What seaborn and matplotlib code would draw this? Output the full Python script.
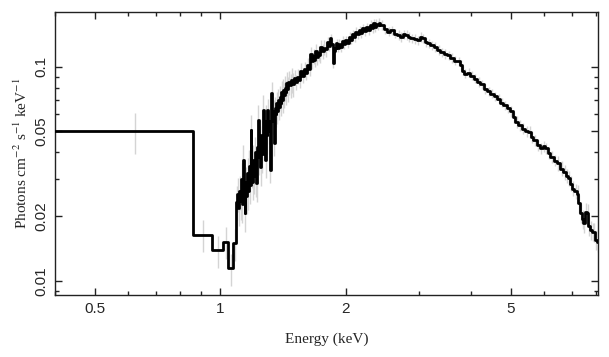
import matplotlib
matplotlib.use("Agg")
import matplotlib.pyplot as plt
import matplotlib.ticker as mticker
import seaborn as sns
import numpy as np
import pandas as pd

# bin lower edges (keV) and flux (photons cm^-2 s^-1 keV^-1)
# low energy, wide bins
e_low = [0.39, 0.858, 0.955, 1.015, 1.043, 1.073]
f_low = [0.0500, 0.0164, 0.0139, 0.0152, 0.01146, 0.0150]

# steep, noisy rise 1.09 - 1.46 keV
e_rise = [1.093, 1.099, 1.104, 1.110, 1.116, 1.121, 1.127, 1.133, 1.138, 1.143,
          1.149, 1.154, 1.160, 1.165, 1.171, 1.176, 1.182, 1.187, 1.193, 1.198,
          1.204, 1.209, 1.215, 1.220, 1.226, 1.231, 1.237, 1.242, 1.248, 1.253,
          1.259, 1.264, 1.270, 1.276, 1.281, 1.287, 1.292, 1.298, 1.304, 1.309,
          1.315, 1.321, 1.327, 1.333, 1.339, 1.345, 1.351, 1.357, 1.363, 1.369,
          1.375, 1.382, 1.388, 1.395, 1.401, 1.408, 1.414, 1.421, 1.428, 1.435,
          1.442, 1.449, 1.456]
f_rise = [0.0234, 0.0256, 0.0220, 0.0262, 0.0235, 0.0300, 0.0228, 0.0367, 0.0270, 0.0207,
          0.0290, 0.0250, 0.0319, 0.0262, 0.0345, 0.0280, 0.0506, 0.0330, 0.0290, 0.0367,
          0.0310, 0.0400, 0.0300, 0.0286, 0.0420, 0.0564, 0.0380, 0.0450, 0.0340, 0.0480,
          0.0390, 0.0628, 0.0450, 0.0520, 0.0367, 0.0560, 0.0480, 0.0628, 0.0500, 0.0560,
          0.0330, 0.0600, 0.0754, 0.0560, 0.0620, 0.0440, 0.0640, 0.0600, 0.0676, 0.0620,
          0.0700, 0.0650, 0.0720, 0.0680, 0.0760, 0.0700, 0.0780, 0.0740, 0.0800, 0.0760,
          0.0840, 0.0790, 0.0850]

# 1.47 - 1.64 keV
e_mid = [1.470, 1.480, 1.490, 1.501, 1.515, 1.529, 1.543, 1.557, 1.572, 1.586,
         1.601, 1.616, 1.631]
f_mid = [0.0820, 0.0870, 0.0830, 0.0890, 0.0850, 0.0900, 0.0870, 0.0960, 0.0910, 0.0980,
         0.0940, 0.1020, 0.0980]

# peak region 1.65 - 2.45 keV
e_peak = [1.646, 1.658, 1.670, 1.682, 1.693, 1.705, 1.716, 1.728, 1.740, 1.756,
          1.772, 1.788, 1.805, 1.821, 1.838, 1.850, 1.862, 1.874, 1.885, 1.897,
          1.908, 1.925, 1.943, 1.961, 1.979, 1.997, 2.016, 2.035, 2.054, 2.073,
          2.093, 2.112, 2.132, 2.151, 2.171, 2.191, 2.211, 2.237, 2.263, 2.290,
          2.316, 2.333, 2.350, 2.366, 2.381, 2.403, 2.424]
f_peak = [0.1150, 0.1060, 0.1120, 0.1080, 0.1180, 0.1110, 0.1160, 0.1130, 0.1240, 0.1180,
          0.1230, 0.1210, 0.1310, 0.1250, 0.1360, 0.1280, 0.1040, 0.1180, 0.1220, 0.1290,
          0.1230, 0.1280, 0.1240, 0.1320, 0.1280, 0.1330, 0.1290, 0.1380, 0.1340, 0.1420,
          0.1380, 0.1460, 0.1420, 0.1480, 0.1440, 0.1510, 0.1470, 0.1530, 0.1480, 0.1570,
          0.1520, 0.1600, 0.1530, 0.1590, 0.1560, 0.1610, 0.1570]

# high energy fall-off 2.47 - 8.1 keV
e_high = [2.470, 2.516, 2.563, 2.610, 2.660, 2.708, 2.745, 2.785, 2.824, 2.863,
          2.917, 2.971, 3.013, 3.055, 3.098, 3.141, 3.199, 3.257, 3.318, 3.380,
          3.444, 3.508, 3.573, 3.638, 3.707, 3.776, 3.811, 3.846, 3.918, 3.990,
          4.065, 4.140, 4.217, 4.295, 4.376, 4.457, 4.541, 4.625, 4.711, 4.797,
          4.887, 4.977, 5.047, 5.117, 5.213, 5.310, 5.409, 5.509, 5.586, 5.663,
          5.769, 5.875, 5.959, 6.043, 6.128, 6.214, 6.330, 6.446, 6.566, 6.687,
          6.781, 6.876, 6.940, 7.004, 7.100, 7.199, 7.267, 7.335, 7.400, 7.470,
          7.540, 7.609, 7.680, 7.748, 7.820, 7.895, 7.968, 8.041]
f_high = [0.1500, 0.1460, 0.1480, 0.1430, 0.1410, 0.1380, 0.1420, 0.1410, 0.1380, 0.1360,
          0.1350, 0.1330, 0.1380, 0.1360, 0.1300, 0.1290, 0.1260, 0.1240, 0.1200, 0.1170,
          0.1150, 0.1130, 0.1100, 0.1070, 0.1060, 0.1020, 0.0960, 0.0930, 0.0940, 0.0910,
          0.0880, 0.0850, 0.0830, 0.0790, 0.0770, 0.0750, 0.0730, 0.0710, 0.0680, 0.0660,
          0.0640, 0.0620, 0.0580, 0.0553, 0.0535, 0.0515, 0.0500, 0.0497, 0.0470, 0.0455,
          0.0430, 0.0416, 0.0425, 0.0416, 0.0395, 0.0380, 0.0365, 0.0354, 0.0335, 0.0323,
          0.0310, 0.0301, 0.0285, 0.0270, 0.0262, 0.0256, 0.0230, 0.0207, 0.0195, 0.0186,
          0.0210, 0.0207, 0.0180, 0.0173, 0.0170, 0.0169, 0.0155, 0.0152]
e_last = 8.15

# typical fractional error bar size per energy band (band lower edges)
err_band_lo = [0.0, 0.858, 1.09, 1.30, 1.50, 1.80, 5.0, 6.5, 7.2]
err_band_frac = [0.22, 0.17, 0.18, 0.13, 0.08, 0.05, 0.06, 0.08, 0.10]

x_ticks = [0.5, 1, 2, 5]
x_ticklabels = ["0.5", "1", "2", "5"]
y_ticks = [0.01, 0.02, 0.05, 0.1]
y_ticklabels = ["0.01", "0.02", "0.05", "0.1"]

sns.set_style("ticks")
plt.rcParams["font.family"] = ["Liberation Sans", "DejaVu Sans"]
plt.rcParams["mathtext.fontset"] = "stix"

edges = np.array(e_low + e_rise + e_mid + e_peak + e_high + [e_last])
fl = np.array(f_low + f_rise + f_mid + f_peak + f_high)
centers = (edges[:-1] + edges[1:]) / 2
frac = np.array(err_band_frac)[np.searchsorted(err_band_lo, centers, side="right") - 1]
err = fl * frac

step_df = pd.DataFrame({"energy": edges, "flux": np.append(fl, fl[-1])})

fig = plt.figure(figsize=(6.09, 3.57), dpi=100)
ax = fig.add_axes([0.0903, 0.1737, 0.8917, 0.7923])

# error bars in light grey, step line on top
ax.vlines(centers, fl - err, fl + err, color="#d4d4d4", linewidth=1.0, zorder=1)
sns.lineplot(data=step_df, x="energy", y="flux", drawstyle="steps-post",
             color="black", linewidth=2.0, estimator=None, sort=False, ax=ax, zorder=3)

ax.set_xscale("log")
ax.set_yscale("log")
ax.set_xlim(0.4, 8.1)
ax.set_ylim(0.0086, 0.18)

ax.xaxis.set_major_locator(mticker.FixedLocator(x_ticks))
ax.xaxis.set_major_formatter(mticker.FixedFormatter(x_ticklabels))
ax.xaxis.set_minor_locator(mticker.LogLocator(base=10, subs=np.arange(2, 10)))
ax.xaxis.set_minor_formatter(mticker.NullFormatter())
ax.yaxis.set_major_locator(mticker.FixedLocator(y_ticks))
ax.yaxis.set_major_formatter(mticker.FixedFormatter(y_ticklabels))
ax.yaxis.set_minor_locator(mticker.LogLocator(base=10, subs=np.arange(2, 10)))
ax.yaxis.set_minor_formatter(mticker.NullFormatter())

ax.tick_params(which="both", direction="in", top=True, right=True, width=1, color="#222222")
ax.tick_params(which="major", length=5, labelsize=11, pad=5,
               labelfontfamily="Liberation Sans")
ax.tick_params(which="minor", length=3)
for lab in ax.get_yticklabels():
    lab.set_rotation(90)
    lab.set_va("center")
for sp in ax.spines.values():
    sp.set_linewidth(1.0)
    sp.set_color("#222222")

ax.set_xlabel("Energy (keV)", family=["Liberation Serif"], fontsize=11, labelpad=12)
ax.set_ylabel("Photons cm$^{-2}$ s$^{-1}$ keV$^{-1}$", family=["Liberation Serif"],
              fontsize=11, labelpad=3)

fig.savefig("out.png", dpi=100)
